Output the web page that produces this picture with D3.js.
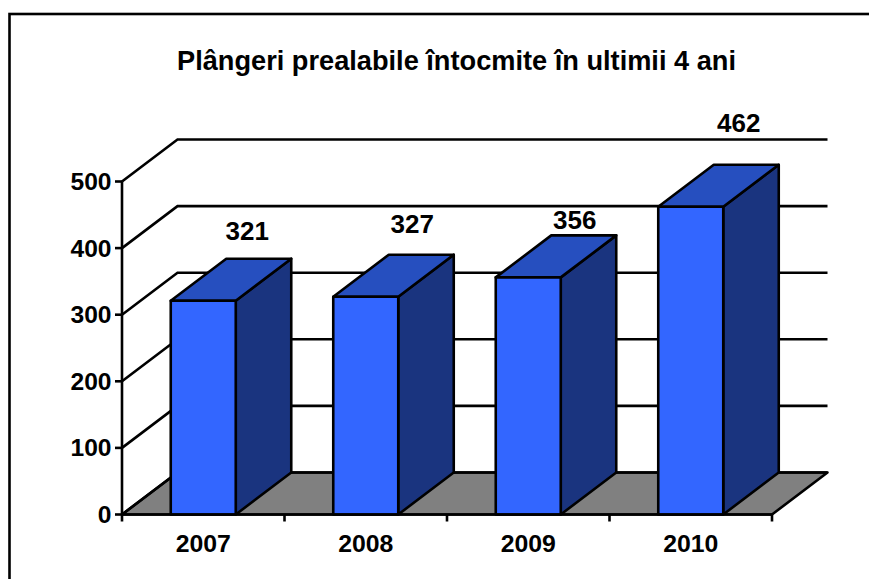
<!DOCTYPE html>
<html><head><meta charset="utf-8">
<script src="https://cdn.jsdelivr.net/npm/d3@7"></script>
<style>html,body{margin:0;padding:0;background:#fff}svg{display:block}text{font-family:"Liberation Sans",Arial,sans-serif;font-weight:700;fill:#000}</style>
</head><body>
<svg id="c" width="869" height="579"></svg>
<script>
const titleText = "Plângeri prealabile întocmite în ultimii 4 ani";
const years = ["2007","2008","2009","2010"];
const values = [321,327,356,462];
const yTicks = [0,100,200,300,400,500];

const svg = d3.select("#c");
const W = 869, H = 579;
const left = 122, right = 772, y0 = 514.5, y500 = 181.5;
const depthX = 55.5, depthY = 42;
const labelRise = {2007:61, 2008:64, 2009:48, 2010:75};
const labelShift = {2007:44, 2008:46.5, 2009:46.5, 2010:48};
const x = d3.scaleBand().domain(years).range([left,right]).paddingInner(0.6).paddingOuter(0.3);
const xEdge = d3.scaleLinear().domain([0,years.length]).range([left,right]);
const y = d3.scaleLinear().domain([0,500]).range([y0,y500]);
const line = d3.line();
const sw = 2.6;

svg.append("rect").attr("x",9.5).attr("y",14).attr("width",W).attr("height",H)
  .attr("fill","#fff").attr("stroke","#000").attr("stroke-width",sw);

svg.append("text").attr("x",456.5).attr("y",69.5).attr("text-anchor","middle")
  .style("font-size","27.2px").text(titleText);

// floor
svg.append("path").attr("d",line([[left,y0],[left+depthX,y0-depthY],[right+depthX,y0-depthY],[right,y0]])+"Z")
  .attr("fill","#808080").attr("stroke","#000").attr("stroke-width",sw).attr("stroke-linejoin","round");

// gridlines: side wall + back wall
svg.append("g").selectAll("path").data(yTicks).join("path")
  .attr("d",d=>line([[left,y(d)],[left+depthX,y(d)-depthY],[right+depthX,y(d)-depthY]]))
  .attr("fill","none").attr("stroke","#000").attr("stroke-width",sw);

// bars
const bars = svg.append("g").selectAll("g").data(years.map((k,i)=>({k,v:values[i]}))).join("g");
const poly = (sel,fill,pts)=>sel.append("path").attr("d",d=>line(pts(d))+"Z")
  .attr("fill",fill).attr("stroke","#000").attr("stroke-width",sw).attr("stroke-linejoin","round");
poly(bars,"#1a347f",d=>{const a=x(d.k)+x.bandwidth();return [[a,y(d.v)],[a+depthX,y(d.v)-depthY],[a+depthX,y0-depthY],[a,y0]];});
poly(bars,"#264fbf",d=>{const a=x(d.k),b=a+x.bandwidth();return [[a,y(d.v)],[a+depthX,y(d.v)-depthY],[b+depthX,y(d.v)-depthY],[b,y(d.v)]];});
poly(bars,"#3366ff",d=>{const a=x(d.k),b=a+x.bandwidth();return [[a,y(d.v)],[b,y(d.v)],[b,y0],[a,y0]];});

// value labels
bars.append("text").attr("text-anchor","middle").style("font-size","26px")
  .attr("x",d=>x(d.k)+x.bandwidth()/2+labelShift[d.k]).attr("y",d=>y(d.v)-labelRise[d.k]).text(d=>d.v);

// axes
svg.append("path").attr("d",line([[left,y0],[left,y500]])).attr("stroke","#000").attr("stroke-width",sw).attr("fill","none");
svg.append("path").attr("d",line([[left,y0],[right,y0]])).attr("stroke","#000").attr("stroke-width",sw).attr("fill","none");
svg.append("g").selectAll("line").data(yTicks).join("line")
  .attr("x1",left-7).attr("x2",left).attr("y1",d=>y(d)).attr("y2",d=>y(d)).attr("stroke","#000").attr("stroke-width",sw);
svg.append("g").selectAll("line").data(d3.range(years.length+1)).join("line")
  .attr("x1",d=>xEdge(d)).attr("x2",d=>xEdge(d)).attr("y1",y0).attr("y2",y0+7).attr("stroke","#000").attr("stroke-width",sw);
svg.append("g").selectAll("text").data(yTicks).join("text")
  .attr("x",left-10.5).attr("y",d=>y(d)+8.5).attr("text-anchor","end").style("font-size","24.6px").text(d=>d);
svg.append("g").selectAll("text").data(years).join("text")
  .attr("x",d=>x(d)+x.bandwidth()/2).attr("y",552).attr("text-anchor","middle").style("font-size","24.8px").text(d=>d);
</script>
</body></html>
